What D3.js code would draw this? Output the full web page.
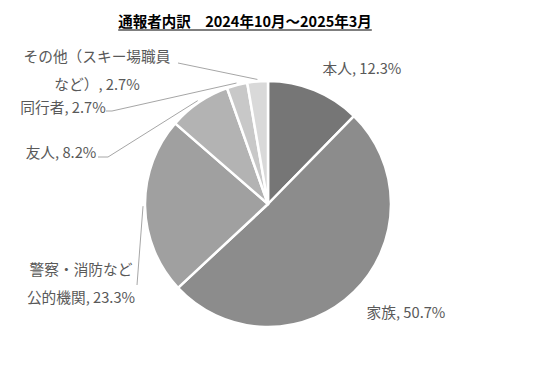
<!DOCTYPE html>
<html lang="ja">
<head>
<meta charset="UTF-8">
<script src="https://cdn.jsdelivr.net/npm/d3@7"></script>
<style>
  body { margin: 0; background: #fff; }
  svg { font-family: "Noto Sans CJK JP", "Noto Sans", sans-serif; }
  .lbl { fill: #595959; font-size: 14.7px; }
  .leader { fill: none; stroke: #a6a6a6; stroke-width: 1; }
</style>
</head>
<body>
<svg id="chart" width="536" height="369"></svg>
<script>
  // data
  var categories = ["本人", "家族", "公的機関", "友人", "同行者", "その他"];
  var values = [12.3, 50.7, 23.3, 8.2, 2.7, 2.7];
  var labelLines = [
    ["本人, 12.3%"],
    ["家族, 50.7%"],
    ["警察・消防など", "公的機関, 23.3%"],
    ["友人, 8.2%"],
    ["同行者, 2.7%"],
    ["その他（スキー場職員", "など）, 2.7%"]
  ];
  var colors = ["#767676", "#8c8c8c", "#a0a0a0", "#b3b3b3", "#c8c8c8", "#d9d9d9"];

  // layout (label boxes, leader bends)
  var labelPos = [
    { x: 362, y: 69, anchor: "middle", leader: null },
    { x: 406, y: 313, anchor: "middle", leader: null },
    { x: 81, y: 270, anchor: "middle", leader: [[137, 285]] },
    { x: 61, y: 153, anchor: "middle", leader: [[98, 157], [108, 157]] },
    { x: 63, y: 108, anchor: "middle", leader: [[106, 111], [112, 111]] },
    { x: 97, y: 57, anchor: "middle", leader: [[178, 63]] }
  ];

  var svg = d3.select("#chart");
  var cx = 268, cy = 204, r = 123;

  // title
  var title = svg.append("text")
      .attr("x", 245).attr("y", 27)
      .attr("text-anchor", "middle")
      .style("font-size", "14.5px")
      .style("font-weight", "bold")
      .style("fill", "#000")
      .text("通報者内訳　2024年10月～2025年3月");
  var tb = title.node().getBBox();
  svg.append("line")
      .attr("x1", tb.x).attr("x2", tb.x + tb.width)
      .attr("y1", 30).attr("y2", 30)
      .attr("stroke", "#000").attr("stroke-width", 1.2);

  var pie = d3.pie().sort(null).value(function(d) { return d; });
  var arcs = pie(values);
  var arc = d3.arc().innerRadius(0).outerRadius(r);

  var g = svg.append("g").attr("transform", "translate(" + cx + "," + cy + ")");

  g.selectAll("path")
      .data(arcs)
      .enter()
      .append("path")
      .attr("d", arc)
      .attr("fill", function(d, i) { return colors[i]; })
      .attr("stroke", "#fff")
      .attr("stroke-width", 2.5)
      .attr("stroke-linejoin", "round");

  // leader lines
  var line = d3.line();
  arcs.forEach(function(d, i) {
    var lp = labelPos[i];
    if (!lp.leader) return;
    var mid = (d.startAngle + d.endAngle) / 2;
    var p0 = [cx + Math.sin(mid) * (r + 2), cy - Math.cos(mid) * (r + 2)];
    var pts = [p0].concat(lp.leader.slice().reverse());
    svg.append("path").attr("class", "leader").attr("d", line(pts));
  });

  // labels
  labelPos.forEach(function(lp, i) {
    var t = svg.append("text")
        .attr("class", "lbl")
        .attr("text-anchor", lp.anchor);
    labelLines[i].forEach(function(s, k) {
      t.append("tspan")
          .attr("x", lp.x)
          .attr("y", lp.y + 5 + k * 28)
          .text(s);
    });
  });
</script>
</body>
</html>
